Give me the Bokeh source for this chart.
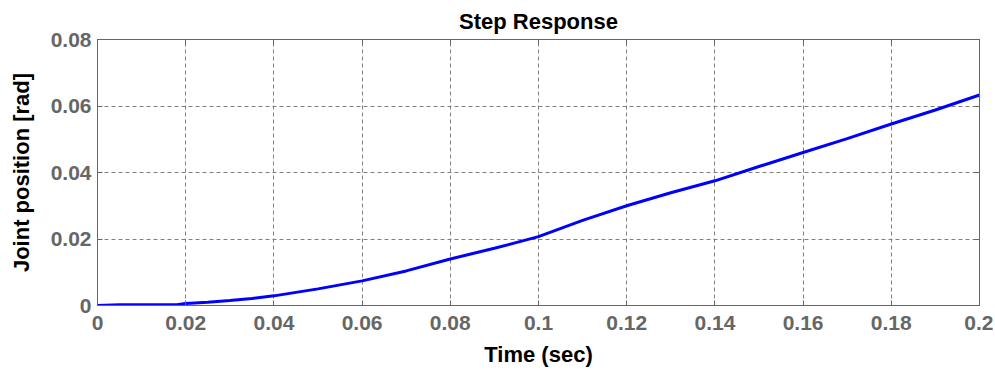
import numpy as np
from bokeh.plotting import figure
from bokeh.models import LinearAxis, FixedTicker, Range1d
from bokeh.embed import file_html
from bokeh.resources import INLINE

# data
time_s = [0, 0.005, 0.01, 0.015, 0.018, 0.02, 0.025, 0.03, 0.035, 0.04, 0.05,
          0.06, 0.07, 0.08, 0.09, 0.1, 0.11, 0.12, 0.13, 0.14, 0.15, 0.16,
          0.17, 0.18, 0.19, 0.2]
joint_pos = [0, 0.0002, 0.0002, 0.0002, 0.0002, 0.0006, 0.0010, 0.0015, 0.0021,
             0.0029, 0.0050, 0.0074, 0.0104, 0.0140, 0.0172, 0.0207, 0.0256,
             0.0300, 0.0339, 0.0375, 0.0418, 0.0460, 0.0502, 0.0546, 0.0588,
             0.0633]

x_ticks = [0, 0.02, 0.04, 0.06, 0.08, 0.1, 0.12, 0.14, 0.16, 0.18, 0.2]
x_tick_labels = ["0", "0.02", "0.04", "0.06", "0.08", "0.1", "0.12", "0.14",
                 "0.16", "0.18", "0.2"]
y_ticks = [0, 0.02, 0.04, 0.06, 0.08]
y_tick_labels = ["0", "0.02", "0.04", "0.06", "0.08"]

FONT = "Liberation Sans"
GRAY = "#666666"

p = figure(frame_width=882, frame_height=266,
           x_range=Range1d(0, 0.2), y_range=Range1d(0, 0.08),
           output_backend="svg", toolbar_location=None,
           min_border_left=97, min_border_right=14,
           min_border_top=39, min_border_bottom=57,
           title="Step Response")

p.title.align = "center"
p.title.text_font = FONT
p.title.text_font_size = "22px"
p.title.text_font_style = "bold"
p.title.text_color = "black"
p.title.standoff = 12

p.line(time_s, joint_pos, line_color="#0000FF", line_width=3)

def style_axis(ax, ticks, labels, show_labels=True):
    ax.ticker = FixedTicker(ticks=ticks)
    ax.major_tick_in = 5
    ax.major_tick_out = 0
    ax.minor_tick_line_color = None
    ax.axis_line_color = GRAY
    ax.major_tick_line_color = GRAY
    ax.major_label_text_font = FONT
    ax.major_label_text_font_style = "bold"
    ax.major_label_text_color = GRAY
    if show_labels:
        ax.major_label_overrides = {t: l for t, l in zip(ticks, labels)}
        ax.major_label_text_font_size = "21px"
    else:
        ax.major_label_overrides = {t: "" for t in ticks}
        ax.major_label_text_font_size = "0px"
        ax.major_label_standoff = 0

xa = p.xaxis[0]
style_axis(xa, x_ticks, x_tick_labels)
xa.major_label_standoff = 10
xa.axis_label = "Time (sec)"
xa.axis_label_standoff = 9
xa.axis_label_text_font_size = "22px"

ya = p.yaxis[0]
style_axis(ya, y_ticks, y_tick_labels)
ya.major_label_standoff = 6
ya.axis_label = "Joint position [rad]"
ya.axis_label_standoff = 14
ya.axis_label_text_font_size = "22px"

for ax in (xa, ya):
    ax.axis_label_text_font = FONT
    ax.axis_label_text_font_style = "bold"
    ax.axis_label_text_color = "black"

top = LinearAxis()
style_axis(top, x_ticks, x_tick_labels, show_labels=False)
p.add_layout(top, "above")
right = LinearAxis()
style_axis(right, y_ticks, y_tick_labels, show_labels=False)
p.add_layout(right, "right")

p.xgrid.ticker = FixedTicker(ticks=x_ticks)
p.ygrid.ticker = FixedTicker(ticks=y_ticks)
for g in (p.xgrid[0], p.ygrid[0]):
    g.grid_line_color = "#808080"
    g.grid_line_dash = "4 3"
    g.grid_line_width = 1

p.outline_line_color = GRAY
p.background_fill_color = "white"
p.border_fill_color = "white"

open("out.html", "w").write(file_html(p, INLINE))
